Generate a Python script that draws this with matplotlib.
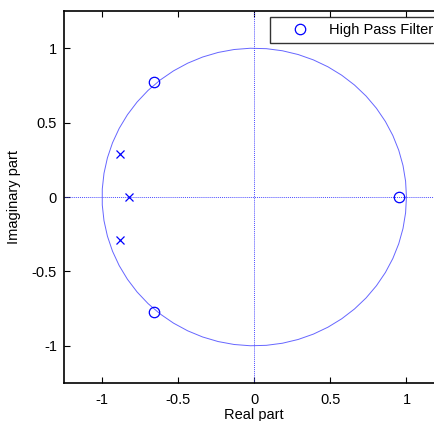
import numpy as np
import matplotlib
matplotlib.use("Agg")
import matplotlib.pyplot as plt

plt.rcParams['font.family'] = ['Liberation Sans', 'DejaVu Sans']

zeros_re = [0.95, -0.66, -0.66]
zeros_im = [0.0, 0.77, -0.77]
poles_re = [-0.82, -0.88, -0.88]
poles_im = [0.0, 0.29, -0.29]

xticks = [-1, -0.5, 0, 0.5, 1]
yticks = [-1, -0.5, 0, 0.5, 1]

W, H = 435, 421
fig = plt.figure(figsize=(W/100, H/100), dpi=100)
x0, x1 = 64, 444.5
y0, y1 = 11, 383
ax = fig.add_axes([x0/W, 1 - y1/H, (x1-x0)/W, (y1-y0)/H])

theta = np.linspace(0, 2*np.pi, 60)
ax.plot(np.cos(theta), np.sin(theta), color=(0.4, 0.4, 1.0), lw=0.7)
ax.axhline(0, color=(0.3, 0.3, 1.0), lw=0.7, ls=(0, (1, 1)))
ax.axvline(0, color=(0.3, 0.3, 1.0), lw=0.7, ls=(0, (1, 1)))
ax.plot(zeros_re, zeros_im, 'o', mfc='none', mec='blue', ms=7.5, mew=0.9,
        ls='none', label='High Pass Filter')
ax.plot(poles_re, poles_im, 'x', color='blue', ms=6, mew=0.9, ls='none')

ax.set_xlim(-1.25, 1.25)
ax.set_ylim(-1.25, 1.25)
ax.set_xticks(xticks)
ax.set_xticklabels(['-1', '-0.5', '0', '0.5', '1'])
ax.set_yticks(yticks)
ax.set_yticklabels(['-1', '-0.5', '0', '0.5', '1'])
ax.tick_params(direction='in', top=True, right=True, length=4, labelsize=10.5, width=0.8)
ax.tick_params(axis='x', pad=7)
ax.tick_params(axis='y', pad=5)
for s in ax.spines.values():
    s.set_linewidth(1.2)
ax.set_xlabel('Real part', fontsize=10.5, labelpad=1)
ax.set_ylabel('Imaginary part', fontsize=10.5, labelpad=8)

leg = ax.legend(loc='upper right', fontsize=10.5, frameon=True, fancybox=False,
                edgecolor='black', borderaxespad=0.4, handletextpad=0.25,
                borderpad=0.4, handlelength=3.4)
leg.get_frame().set_linewidth(1.0)

fig.savefig('out.png', dpi=100)
